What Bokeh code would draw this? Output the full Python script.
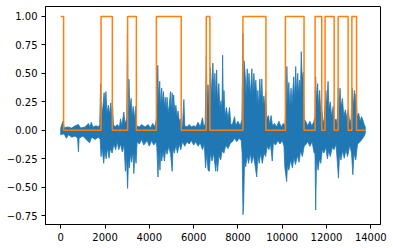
from bokeh.plotting import figure
from bokeh.models import Range1d, FixedTicker
from bokeh.embed import file_html
from bokeh.resources import INLINE

# ---- data ----
n_samples = 13750

# upper envelope of the waveform: (sample index, amplitude)
hi_x = [0, 100, 160, 300, 500, 650, 800, 900, 1100, 1250, 1320, 1380, 1450, 1600, 1700, 1760,
        1800, 1840, 1900, 1960, 2000, 2040, 2090, 2150, 2200, 2260, 2300, 2330, 2380,
        2450, 2550, 2650, 2700, 2760, 2850, 2900,
        2980, 3010, 3040, 3080, 3120, 3180, 3220, 3270, 3330, 3380, 3430,
        3550, 3650, 3800, 3950, 4050, 4150, 4250,
        4340, 4380, 4420, 4470, 4510, 4560, 4600, 4640, 4680, 4720, 4770, 4800, 4850, 4900,
        4955, 4990, 5030, 5070, 5100, 5150, 5200, 5250, 5300, 5350, 5400, 5450,
        5500, 5560, 5600, 5700, 5800, 5900, 6000, 6100, 6200, 6300, 6400, 6450, 6520,
        6575, 6610, 6650, 6700, 6760, 6800, 6870, 6920, 6960, 7000, 7040, 7080, 7140, 7180,
        7240, 7280, 7310, 7340, 7370, 7420, 7480, 7550, 7620, 7680,
        7750, 7850, 7900, 8000, 8100, 8180,
        8225, 8250, 8280, 8330, 8370, 8420, 8460, 8500, 8560, 8630, 8670, 8720, 8760, 8810,
        8860, 8900, 8940, 8990, 9030, 9080, 9120, 9170, 9210, 9250, 9300,
        9380, 9430, 9500, 9560, 9650, 9750, 9850, 9950, 10050, 10120,
        10170, 10210, 10250, 10300, 10340, 10400, 10440, 10520, 10560, 10610, 10650, 10700,
        10740, 10780, 10820, 10860, 10900, 10950, 10990,
        11060, 11150, 11250, 11330, 11420,
        11480, 11510, 11550, 11600, 11640, 11690, 11740, 11790, 11850, 11900, 11970, 12010,
        12070, 12110, 12170, 12230, 12300, 12360, 12430, 12480, 12530, 12570, 12610, 12660,
        12720, 12780, 12850, 12920, 12980, 13050, 13110, 13170, 13210, 13260, 13300, 13330,
        13380, 13450, 13520, 13580, 13640, 13700, 13750]
hi_y = [0.02, 0.08, 0.02, 0.03, 0.02, 0.04, 0.05, 0.02, 0.03, 0.06, 0.03, 0.07, 0.03, 0.04, 0.03, 0.05,
        0.41, 0.12, 0.20, 0.33, 0.20, 0.34, 0.15, 0.22, 0.14, 0.24, 0.10, 0.25, 0.05,
        0.03, 0.05, 0.03, 0.10, 0.04, 0.16, 0.06,
        0.10, 0.85, 0.20, 0.45, 0.20, 0.28, 0.12, 0.21, 0.10, 0.21, 0.04,
        0.03, 0.05, 0.03, 0.05, 0.02, 0.06, 0.03,
        0.12, 0.57, 0.25, 0.43, 0.20, 0.37, 0.22, 0.34, 0.20, 0.29, 0.18, 0.29, 0.15, 0.22,
        0.34, 0.15, 0.33, 0.18, 0.31, 0.15, 0.22, 0.12, 0.17, 0.08, 0.10, 0.03,
        0.04, 0.27, 0.04, 0.03, 0.05, 0.03, 0.04, 0.03, 0.07, 0.03, 0.11, 0.04, 0.05,
        0.66, 0.20, 0.40, 0.18, 0.55, 0.30, 0.59, 0.30, 0.50, 0.28, 0.53, 0.25, 0.41, 0.20,
        0.26, 0.15, 0.66, 0.20, 0.35, 0.12, 0.20, 0.10, 0.20, 0.05,
        0.05, 0.12, 0.04, 0.08, 0.04, 0.09,
        0.85, 0.30, 0.61, 0.48, 0.30, 0.54, 0.35, 0.50, 0.30, 0.54, 0.30, 0.50, 0.35, 0.44,
        0.25, 0.35, 0.20, 0.45, 0.25, 0.45, 0.22, 0.30, 0.20, 0.34, 0.10,
        0.13, 0.05, 0.13, 0.04, 0.06, 0.03, 0.08, 0.03, 0.06, 0.04,
        0.20, 0.56, 0.25, 0.42, 0.20, 0.37, 0.22, 0.47, 0.25, 0.56, 0.30, 0.50,
        0.30, 0.44, 0.30, 0.69, 0.45, 0.51, 0.10,
        0.08, 0.04, 0.08, 0.04, 0.07,
        0.12, 0.47, 0.25, 0.41, 0.20, 0.35, 0.15, 0.18, 0.06, 0.10, 0.35, 0.20,
        0.43, 0.18, 0.25, 0.12, 0.21, 0.08, 0.10, 0.05, 0.37, 0.20, 0.37, 0.20,
        0.28, 0.12, 0.18, 0.10, 0.18, 0.06, 0.10, 0.37, 0.20, 0.35, 0.20, 0.32,
        0.12, 0.15, 0.08, 0.12, 0.09, 0.05, 0.03]

# lower envelope of the waveform
lo_x = [0, 150, 250, 350, 500, 650, 760, 800, 830, 1000, 1150, 1300, 1400, 1550, 1700,
        1780, 1820, 1870, 1940, 1990, 2050, 2120, 2180, 2240, 2320, 2400,
        2480, 2550, 2620, 2700, 2780, 2860, 2920,
        2960, 3020, 3060, 3100, 3150, 3200, 3260, 3300, 3350, 3400, 3450,
        3550, 3650, 3750, 3900, 4000, 4100, 4200, 4300,
        4340, 4390, 4430, 4480, 4520, 4560, 4620, 4680, 4740, 4800, 4880, 4960, 5030, 5070,
        5130, 5200, 5270, 5350, 5420,
        5500, 5600, 5700, 5800, 5900, 6000, 6100, 6200, 6300, 6400, 6480,
        6540, 6600, 6650, 6710, 6760, 6830, 6900, 7000, 7040, 7080, 7140, 7220, 7290, 7370,
        7450, 7550, 7670,
        7750, 7850, 7950, 8050, 8150,
        8190, 8230, 8260, 8300, 8350, 8420, 8480, 8560, 8620, 8700, 8760, 8850, 8900, 8960,
        9030, 9100, 9180, 9250, 9320,
        9400, 9470, 9550, 9600, 9700, 9800, 9900, 10000, 10080,
        10120, 10200, 10240, 10300, 10380, 10460, 10530, 10600, 10690, 10760, 10830, 10910, 10990,
        11050, 11150, 11250, 11350, 11440,
        11480, 11510, 11550, 11620, 11680, 11740, 11810, 11880, 11970, 12040, 12100, 12170,
        12260, 12340, 12430, 12540, 12590, 12650, 12730, 12800, 12880, 12950, 13050, 13130,
        13190, 13240, 13320, 13400, 13470, 13600, 13700, 13750]
lo_y = [-0.04, -0.03, -0.07, -0.04, -0.06, -0.05, -0.07, -0.19, -0.07, -0.05, -0.08, -0.11, -0.06, -0.08, -0.06,
        -0.08, -0.23, -0.15, -0.29, -0.18, -0.25, -0.15, -0.245, -0.16, -0.20, -0.12,
        -0.17, -0.10, -0.17, -0.12, -0.19, -0.13, -0.36,
        -0.20, -0.51, -0.25, -0.33, -0.20, -0.28, -0.18, -0.38, -0.20, -0.29, -0.10,
        -0.12, -0.08, -0.13, -0.09, -0.14, -0.09, -0.13, -0.10,
        -0.15, -0.41, -0.20, -0.35, -0.18, -0.27, -0.18, -0.27, -0.16, -0.21, -0.14, -0.21, -0.36, -0.16,
        -0.20, -0.13, -0.20, -0.12, -0.17,
        -0.10, -0.14, -0.10, -0.12, -0.09, -0.13, -0.10, -0.14, -0.11, -0.17, -0.12,
        -0.33, -0.20, -0.35, -0.36, -0.20, -0.27, -0.20, -0.36, -0.25, -0.36, -0.22, -0.26, -0.18, -0.20,
        -0.13, -0.16, -0.11,
        -0.10, -0.07, -0.10, -0.07, -0.09,
        -0.20, -0.74, -0.64, -0.26, -0.32, -0.22, -0.29, -0.20, -0.29, -0.22, -0.29, -0.41, -0.22, -0.29,
        -0.20, -0.29, -0.20, -0.23, -0.14,
        -0.17, -0.12, -0.27, -0.11, -0.13, -0.09, -0.12, -0.09, -0.14,
        -0.33, -0.45, -0.30, -0.35, -0.26, -0.33, -0.24, -0.30, -0.22, -0.28, -0.18, -0.23, -0.14,
        -0.13, -0.10, -0.14, -0.10, -0.20,
        -0.20, -0.70, -0.25, -0.35, -0.25, -0.29, -0.17, -0.20, -0.15, -0.25, -0.18, -0.23,
        -0.15, -0.17, -0.12, -0.42, -0.20, -0.26, -0.18, -0.245, -0.17, -0.23, -0.13, -0.20,
        -0.39, -0.20, -0.26, -0.12, -0.11, -0.08, -0.05, -0.03]

# voice activity segments (start, end sample) where the signal is 1
speech_starts = [0, 1820, 3020, 4320, 6570, 8225, 10145, 11485, 11935, 12525, 13145]
speech_ends = [130, 2330, 3415, 5440, 6735, 9265, 10985, 11785, 12345, 12975, 13355]

x_ticks = [0, 2000, 4000, 6000, 8000, 10000, 12000, 14000]
x_tick_labels = ["0", "2000", "4000", "6000", "8000", "10000", "12000", "14000"]
y_ticks = [-0.75, -0.5, -0.25, 0.0, 0.25, 0.5, 0.75, 1.0]
y_tick_labels = ["\u22120.75", "\u22120.50", "\u22120.25", "0.00", "0.25", "0.50", "0.75", "1.00"]

# ---- step line for the VAD signal ----
vx, vy = [], []
pos = 0
for s, e in zip(speech_starts, speech_ends):
    if s > pos:
        vx += [pos, s]
        vy += [0, 0]
    vx += [s, e]
    vy += [1, 1]
    pos = e
vx += [pos, n_samples]
vy += [0, 0]

# sort envelope points by sample index (keeps values unchanged)
hi_pts = sorted(zip(hi_x, hi_y))
lo_pts = sorted(zip(lo_x, lo_y))

# ---- figure ----
all_min = min(lo_y + vy)
all_max = max(hi_y + vy)
xpad = 0.05 * n_samples
ypad = 0.05 * (all_max - all_min)

p = figure(width=393, height=248, output_backend="svg", toolbar_location=None,
           x_range=Range1d(-xpad, n_samples + xpad),
           y_range=Range1d(all_min - ypad, all_max + ypad),
           min_border_left=45, min_border_right=13, min_border_top=6, min_border_bottom=24)

poly_x = [a for a, _ in hi_pts] + [a for a, _ in lo_pts][::-1]
poly_y = [b for _, b in hi_pts] + [b for _, b in lo_pts][::-1]
p.patch(poly_x, poly_y, fill_color="#1f77b4", line_color="#1f77b4", line_width=0.8)

p.line(vx, vy, line_color="#ff7f0e", line_width=1.5)

p.xgrid.visible = False
p.ygrid.visible = False
p.outline_line_color = "black"
p.outline_line_width = 1
p.background_fill_color = "white"
p.border_fill_color = "white"

p.xaxis.ticker = FixedTicker(ticks=x_ticks)
p.yaxis.ticker = FixedTicker(ticks=y_ticks)
p.xaxis.major_label_overrides = {t: l for t, l in zip(x_ticks, x_tick_labels)}
p.yaxis.major_label_overrides = {t: l for t, l in zip(y_ticks, y_tick_labels)}

for ax in (p.xaxis, p.yaxis):
    ax.axis_line_color = "black"
    ax.axis_line_width = 1
    ax.major_tick_line_color = "black"
    ax.major_tick_in = 0
    ax.major_tick_out = 4
    ax.minor_tick_line_color = None
    ax.major_label_text_font = "DejaVu Sans"
    ax.major_label_text_font_size = "10px"
    ax.major_label_text_color = "black"
    ax.major_label_standoff = 4

open("out.html", "w").write(file_html(p, INLINE))
